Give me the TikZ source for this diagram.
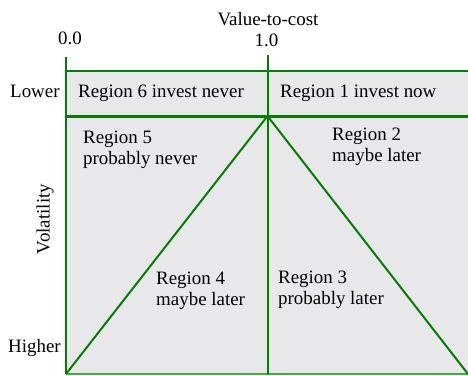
\documentclass[tikz,border=0pt]{standalone}
\usepackage{fontspec}
\setmainfont{Liberation Serif}
\usepackage{tikz}
\definecolor{gridgreen}{RGB}{0,128,0}
\definecolor{panelgrey}{RGB}{232,232,234}
\tikzset{
	axislabel/.style={inner sep=0, anchor=base},
	regionlabel/.style={inner sep=0, anchor=north west, align=left}
}

\begin{document}
\begin{tikzpicture}[x=1bp, y=-1bp, font=\fontsize{19}{21}\selectfont]
		%%%%% START %%%%%
		\useasboundingbox (0, 0) rectangle (468, 375);
		
		\coordinate (tl) at (66, 70.5);
		\coordinate (tr) at (468, 70.5);
		\coordinate (ml) at (66, 116);
		\coordinate (mr) at (468, 116);
		\coordinate (apex) at (267.5, 116);
		\coordinate (bl) at (66, 374);
		\coordinate (bm) at (267.5, 374);
		\coordinate (br) at (468, 374);
		
		\fill[panelgrey] (tl) rectangle (468, 375);
		
		\draw[line width=1.2bp, color=gridgreen!70] (bl) -- (br);
		\draw[line width=2bp, color=gridgreen] (66, 57) -- (bl);
		\draw[line width=2bp, color=gridgreen] (267.5, 55) -- (bm);
		\draw[line width=2bp, color=gridgreen] (tl) -- (tr);
		\draw[line width=3bp, color=gridgreen] (ml) -- (mr);
		\draw[line width=2bp, color=gridgreen] (bl) -- (apex) -- (br);
		
		\node[axislabel] (title) at (268, 25) {Value-to-cost};
		\node[axislabel] (zero) at (70, 44.5) {0.0};
		\node[axislabel] (one) at (266.5, 46.5) {1.0};
		\node[axislabel, anchor=base west] (lower) at (10, 97) {Lower};
		\node[axislabel, anchor=base west] (higher) at (8, 352) {Higher};
		\node[inner sep=0, rotate=90] (vol) at (45, 219) {Volatility};
		
		\node[axislabel, anchor=base west] (r6) at (78, 97) {Region 6 invest never};
		\node[axislabel, anchor=base west] (r1) at (280, 97) {Region 1 invest now};
		\node[regionlabel] (r5) at (83, 131) {Region 5\\probably never};
		\node[regionlabel] (r2) at (332, 127.5) {Region 2\\maybe later};
		\node[regionlabel] (r4) at (156, 272) {Region 4\\maybe later};
		\node[regionlabel] (r3) at (278, 271) {Region 3\\probably later};
		
		%%%%% END %%%%%
	\end{tikzpicture}
\end{document}
